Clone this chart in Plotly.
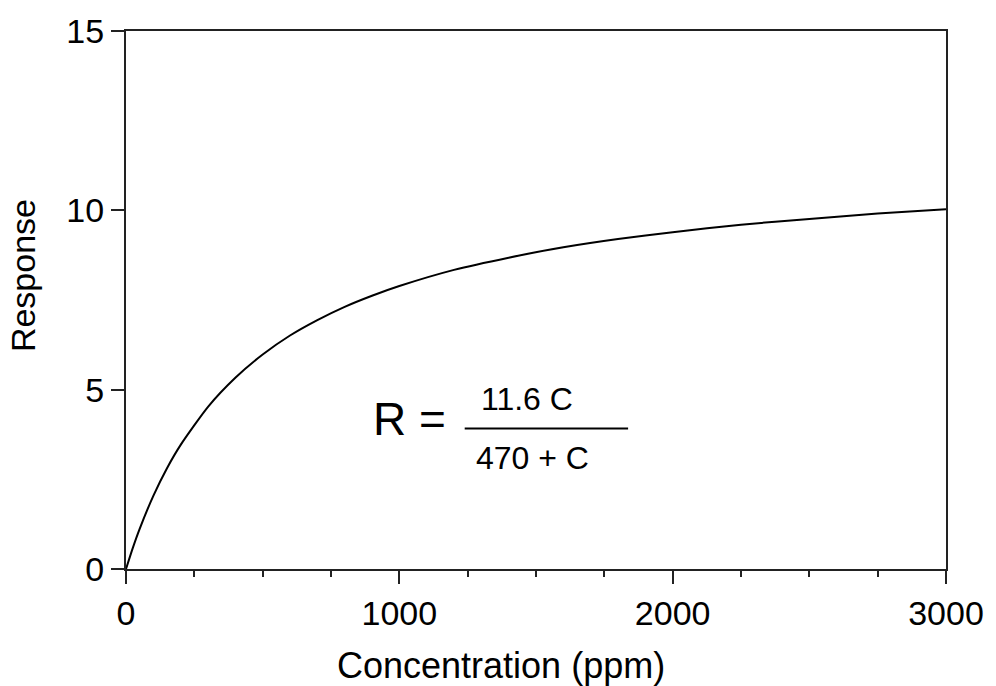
import plotly.graph_objects as go

# Concentration (ppm) and Response values
conc = [0, 25, 50, 100, 150, 200, 300, 400, 500, 600, 700, 800, 900, 1000,
        1200, 1400, 1600, 1800, 2000, 2250, 2500, 2750, 3000]
response = [0.0, 0.59, 1.12, 2.04, 2.81, 3.46, 4.52, 5.33, 5.98, 6.51, 6.94, 7.31, 7.62, 7.89,
            8.34, 8.68, 8.97, 9.20, 9.39, 9.60, 9.76, 9.91, 10.03]

x_ticks = [0, 1000, 2000, 3000]
y_ticks = [0, 5, 10, 15]

FONT = "Liberation Sans, Arial, sans-serif"
W, H = 996, 686
L, R, T, B = 126, 42, 29, 117
PW, PH = W - L - R, H - T - B

def px(x):  # picture x -> paper fraction
    return (x - L) / PW

def py(y):  # picture y -> paper fraction
    return (H - B - y) / PH

fig = go.Figure()
fig.add_trace(go.Scatter(x=conc, y=response, mode="lines",
                         line=dict(color="black", width=2, shape="spline", smoothing=0.6),
                         showlegend=False, hoverinfo="skip"))

axis_common = dict(showline=True, linecolor="#222", linewidth=2, mirror=True,
                   ticks="outside", tickcolor="#222", tickwidth=2, ticklen=13,
                   showgrid=False, zeroline=False,
                   tickfont=dict(family=FONT, size=34, color="black"))

fig.update_xaxes(range=[0, 3000], tickvals=x_ticks, ticktext=[str(v) for v in x_ticks],
                 minor=dict(ticks="outside", ticklen=6, tickwidth=2, tickcolor="#222", dtick=250,
                            tick0=0, showgrid=False),
                 **axis_common)
fig.update_yaxes(range=[0, 15], tickvals=y_ticks, ticktext=[str(v) for v in y_ticks],
                 **axis_common)

ann = []
ann.append(dict(text="Concentration (ppm)", x=px(505), y=py(666), xref="paper", yref="paper",
                showarrow=False, font=dict(family=FONT, size=36, color="black"),
                xanchor="center", yanchor="middle"))
ann.append(dict(text="Response", x=px(22), y=py(275), xref="paper", yref="paper",
                showarrow=False, font=dict(family=FONT, size=34, color="black"), textangle=-90,
                xanchor="center", yanchor="middle"))
ann.append(dict(text="R =", x=px(412), y=py(418), xref="paper", yref="paper",
                showarrow=False, font=dict(family=FONT, size=46, color="black"),
                xanchor="center", yanchor="middle"))
ann.append(dict(text="11.6 C", x=px(531), y=py(398), xref="paper", yref="paper",
                showarrow=False, font=dict(family=FONT, size=32, color="black"),
                xanchor="center", yanchor="middle"))
ann.append(dict(text="470 + C", x=px(536), y=py(458), xref="paper", yref="paper",
                showarrow=False, font=dict(family=FONT, size=32, color="black"),
                xanchor="center", yanchor="middle"))

fig.add_shape(type="line", xref="paper", yref="paper", x0=px(468), x1=px(633),
              y0=py(428), y1=py(428), line=dict(color="black", width=2))

fig.update_layout(width=W, height=H, margin=dict(l=L, r=R, t=T, b=B),
                  paper_bgcolor="white", plot_bgcolor="white",
                  annotations=ann, font=dict(family=FONT, color="black"))

fig.write_html("out.html", config={"displayModeBar": False},
               post_script="document.body.style.margin='0';document.body.style.overflow='hidden';")
